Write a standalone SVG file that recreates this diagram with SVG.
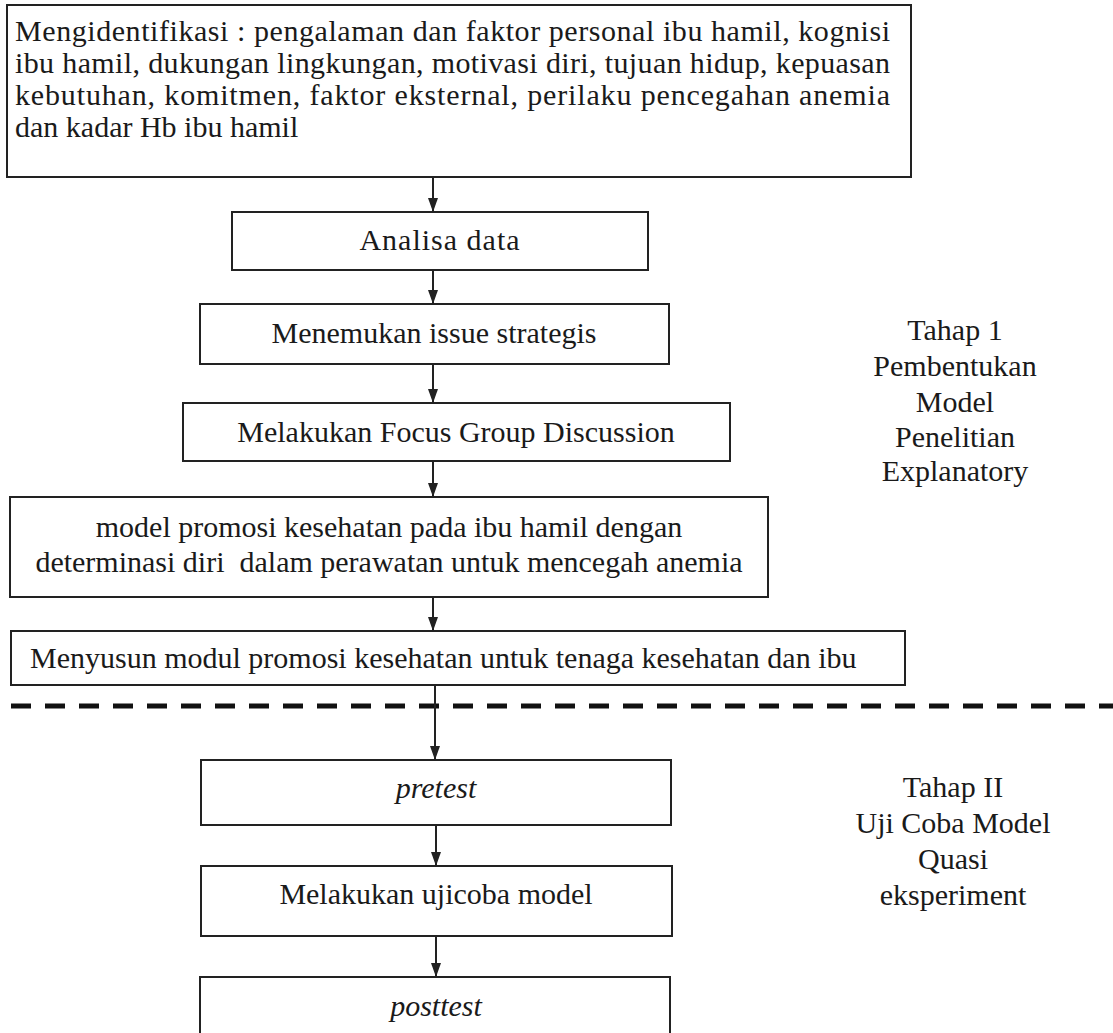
<svg xmlns="http://www.w3.org/2000/svg" width="1113" height="1033" viewBox="0 0 1113 1033">
<style>
.box{fill:#fff;stroke:#222;stroke-width:2}
.t{font-family:"Liberation Serif","Times New Roman",serif;font-size:30px;fill:#1a1a1a}
.c{text-anchor:middle}
.i{font-style:italic}
.con{stroke:#222;stroke-width:2;fill:none}
.dash{stroke:#111;stroke-width:5;stroke-dasharray:20 14;fill:none}
</style>
<defs>
<marker id="ah" viewBox="0 0 14 10" refX="14" refY="5" markerWidth="14" markerHeight="10" markerUnits="userSpaceOnUse" orient="auto">
<path d="M0,0 L14,5 L0,10 Z" fill="#222"/>
</marker>
</defs>
<rect width="1113" height="1033" fill="#fff"/>
<g id="n1">
<rect class="box" x="7" y="5" width="904" height="172"/>
<text class="t" x="15" y="41" textLength="875" lengthAdjust="spacing">Mengidentifikasi : pengalaman dan faktor personal ibu hamil, kognisi</text>
<text class="t" x="15" y="73" textLength="875" lengthAdjust="spacing">ibu hamil, dukungan lingkungan, motivasi diri, tujuan hidup, kepuasan</text>
<text class="t" x="15" y="105" textLength="875" lengthAdjust="spacing">kebutuhan, komitmen, faktor eksternal, perilaku pencegahan anemia</text>
<text class="t" x="15" y="137">dan kadar Hb ibu hamil</text>
</g>
<g id="n2">
<rect class="box" x="232" y="212" width="416" height="58"/>
<text class="t c" x="440" y="250" letter-spacing="1">Analisa data</text>
</g>
<g id="n3">
<rect class="box" x="200" y="304" width="469" height="60"/>
<text class="t c" x="434" y="343">Menemukan issue strategis</text>
</g>
<g id="n4">
<rect class="box" x="183" y="403" width="547" height="58"/>
<text class="t c" x="456" y="442">Melakukan Focus Group Discussion</text>
</g>
<g id="n5">
<rect class="box" x="10" y="497" width="758" height="100"/>
<text class="t c" x="389" y="537">model promosi kesehatan pada ibu hamil dengan</text>
<text class="t c" x="389" y="572" xml:space="preserve">determinasi diri  dalam perawatan untuk mencegah anemia</text>
</g>
<g id="n6">
<rect class="box" x="11" y="631" width="894" height="54"/>
<text class="t" x="30" y="668">Menyusun modul promosi kesehatan untuk tenaga kesehatan dan ibu</text>
</g>
<g id="n7">
<rect class="box" x="201" y="760" width="470" height="65"/>
<text class="t c i" x="436" y="798">pretest</text>
</g>
<g id="n8">
<rect class="box" x="201" y="866" width="471" height="70"/>
<text class="t c" x="436" y="904">Melakukan ujicoba model</text>
</g>
<g id="n9">
<rect class="box" x="200" y="977" width="470" height="70"/>
<text class="t c i" x="436" y="1016">posttest</text>
</g>
<g id="label1">
<text class="t c" x="955" y="340">Tahap 1</text>
<text class="t c" x="955" y="376">Pembentukan</text>
<text class="t c" x="955" y="412">Model</text>
<text class="t c" x="955" y="447">Penelitian</text>
<text class="t c" x="955" y="481">Explanatory</text>
</g>
<g id="label2">
<text class="t c" x="953" y="797">Tahap II</text>
<text class="t c" x="953" y="833">Uji Coba Model</text>
<text class="t c" x="953" y="869">Quasi</text>
<text class="t c" x="953" y="905">eksperiment</text>
</g>
<g id="divider">
<line class="dash" x1="11" y1="706" x2="1113" y2="706"/>
</g>
<g id="connectors">
<line class="con" x1="433" y1="177" x2="433" y2="212" marker-end="url(#ah)"/>
<line class="con" x1="433" y1="270" x2="433" y2="304" marker-end="url(#ah)"/>
<line class="con" x1="433" y1="364" x2="433" y2="403" marker-end="url(#ah)"/>
<line class="con" x1="433" y1="461" x2="433" y2="497" marker-end="url(#ah)"/>
<line class="con" x1="433" y1="597" x2="433" y2="631" marker-end="url(#ah)"/>
<line class="con" x1="435" y1="685" x2="435" y2="760" marker-end="url(#ah)"/>
<line class="con" x1="436" y1="825" x2="436" y2="866" marker-end="url(#ah)"/>
<line class="con" x1="436" y1="936" x2="436" y2="977" marker-end="url(#ah)"/>
</g>
</svg>
